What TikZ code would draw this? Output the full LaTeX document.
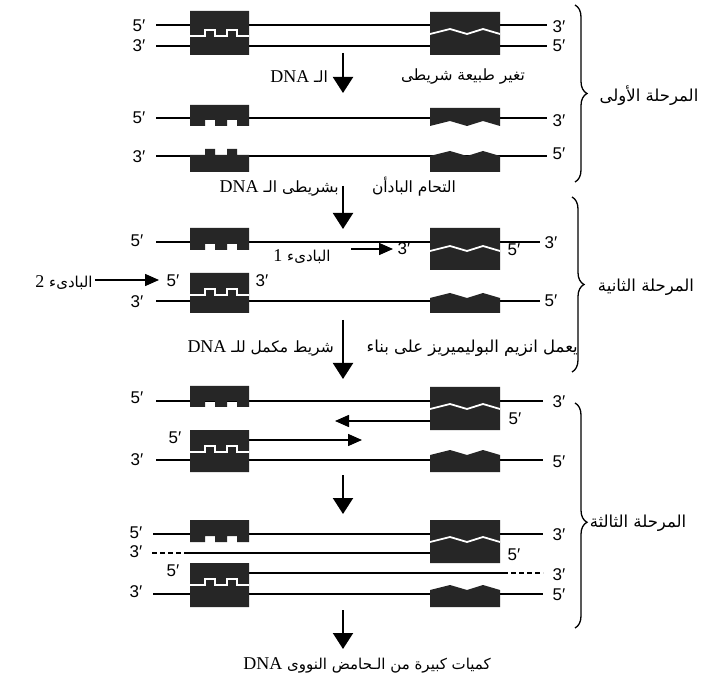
\documentclass[tikz,border=0pt]{standalone}
\usepackage{fontspec}
\setmainfont{Liberation Serif}
\newfontfamily\arabicfont[Script=Arabic]{DejaVu Sans}
\newfontfamily\primefont{Liberation Sans}
\TeXXeTstate=1
\usepackage{tikz}
\usetikzlibrary{arrows.meta, decorations.pathreplacing}

\newcommand{\dna}{{\rmfamily\fontsize{18}{20}\selectfont DNA}}
\newcommand{\num}[1]{{\rmfamily\fontsize{18}{20}\selectfont #1}}
% left blocks: key cut from below / teeth on top
\newcommand{\cutblock}[2]{\fill[blk] (190,#1) -- (249,#1) -- (249,#2) -- (237,#2) -- (237,#2-6) -- (227,#2-6) -- (227,#2) -- (215,#2) -- (215,#2-6) -- (205,#2-6) -- (205,#2) -- (190,#2) -- cycle;}
\newcommand{\toothblock}[2]{\fill[blk] (190,#2) -- (190,#1) -- (205,#1) -- (205,#1-6) -- (215,#1-6) -- (215,#1) -- (227,#1) -- (227,#1-6) -- (237,#1-6) -- (237,#1) -- (249,#1) -- (249,#2) -- cycle;}
\newcommand{\keyseam}[1]{\draw[seam] (190,#1) -- (205,#1) -- (205,#1-6) -- (215,#1-6) -- (215,#1) -- (227,#1) -- (227,#1-6) -- (237,#1-6) -- (237,#1) -- (249,#1);}
% right blocks: zigzag edge
\newcommand{\zigtop}[2]{\fill[blk] (430,#1) -- (500,#1) -- (500,#2) -- (483,#2-5) -- (467,#2) -- (450,#2-5) -- (430,#2) -- cycle;}
\newcommand{\zigbot}[2]{\fill[blk] (430,#2) -- (430,#1) -- (450,#1-5) -- (467,#1) -- (483,#1-5) -- (500,#1) -- (500,#2) -- cycle;}
\newcommand{\zigseam}[1]{\draw[seam] (430,#1) -- (450,#1-5) -- (467,#1) -- (483,#1-5) -- (500,#1);}

\begin{document}
\begin{tikzpicture}[x=1pt, y=-1pt,
  strand/.style={line width=1.5pt},
  blk/.style={fill=black!85},
  seam/.style={white, line width=1.8pt},
  down/.style={line width=2pt, -{Triangle[length=16pt,width=20pt]}},
  prim/.style={line width=1.5pt, -{Triangle[length=14pt,width=12pt]}},
  pr/.style={font=\primefont\fontsize{17}{18}\selectfont, inner sep=0pt},
  ar/.style={font=\arabicfont\fontsize{15.5}{18}\selectfont, inner sep=0pt},
  brc/.style={line width=1.3pt, decorate, decoration={brace, amplitude=12pt}}]
\useasboundingbox (0,0) rectangle (705,679);
\fill[white] (0,0) rectangle (705,679);

% stage one
\draw[strand] (156,25) -- (547,25);
\draw[strand] (156,46) -- (547,46);
\cutblock{11}{36} \toothblock{36}{55} \keyseam{36}
\zigtop{12}{34} \zigbot{34}{55} \zigseam{34}
\node[pr] (a5l) at (139,26) {5′};
\node[pr] (a3l) at (139,46) {3′};
\node[pr] (a3r) at (559,27) {3′};
\node[pr] (a5r) at (559,46) {5′};

\coordinate (d1a) at (343,53);
\coordinate (d1b) at (343,93);
\draw[down] (d1a) -- (d1b);
\node[ar, anchor=east] (t1l) at (328,77) {\beginR الـ \dna\endR};
\node[ar] (t1r) at (463,77) {\beginR تغير طبيعة شريطى\endR};

\draw[strand] (156,118) -- (547,118);
\draw[strand] (156,156) -- (547,156);
\cutblock{105}{126} \zigtop{108}{126}
\toothblock{155}{172} \zigbot{156}{172}
\node[pr] (b5l) at (139,118) {5′};
\node[pr] (b3l) at (139,157) {3′};
\node[pr] (b3r) at (559,121) {3′};
\node[pr] (b5r) at (559,154) {5′};

\coordinate (d2a) at (343,186);
\coordinate (d2b) at (343,229);
\draw[down] (d2a) -- (d2b);
\node[ar, anchor=east] (t2l) at (339,188) {\beginR بشريطى الـ \dna\endR};
\node[ar] (t2r) at (414,187) {\beginR التحام البادأن\endR};

% stage two
\draw[strand] (156,242) -- (540,242);
\cutblock{228}{250}
\zigtop{228}{251} \zigbot{251}{270} \zigseam{251}
\node[pr] (c5l) at (137,241) {5′};
\node[pr] (c3r) at (551,243) {3′};
\node[pr] (p1a) at (404,249) {3′};
\node[pr] (p1b) at (514,250) {5′};
\node[ar, font=\arabicfont\fontsize{15}{18}\selectfont] (p1) at (302,257) {\beginR البادىء \num{1}\endR};
\coordinate (p1s) at (351,249);
\coordinate (p1e) at (393,249);
\draw[prim] (p1s) -- (p1e);

\draw[strand] (156,301) -- (540,301);
\cutblock{273}{295} \toothblock{295}{313} \keyseam{295}
\zigbot{298}{313}
\node[pr] (p2a) at (173,281) {5′};
\node[pr] (p2b) at (262,281) {3′};
\node[pr] (d3l) at (137,302) {3′};
\node[pr] (d5r) at (551,301) {5′};
\node[ar, font=\arabicfont\fontsize{15}{18}\selectfont] (p2) at (64,283) {\beginR البادىء \num{2}\endR};
\coordinate (p2s) at (95,280);
\coordinate (p2e) at (159,280);
\draw[prim] (p2s) -- (p2e);

\coordinate (d3a) at (343,320);
\coordinate (d3b) at (343,379);
\draw[down] (d3a) -- (d3b);
\node[ar, anchor=east] (t3l) at (334,348) {\beginR شريط مكمل للـ \dna\endR};
\node[ar, anchor=east, font=\arabicfont\fontsize{16.5}{18}\selectfont] (t3r) at (578,348) {\beginR يعمل انزيم البوليميريز على بناء\endR};

% stage three
\draw[strand] (156,401) -- (543,401);
\draw[strand] (156,460) -- (543,460);
\cutblock{386}{407}
\zigtop{387}{409} \zigbot{409}{430} \zigseam{409}
\cutblock{430}{452} \toothblock{452}{472} \keyseam{452}
\zigbot{455}{472}
\coordinate (n1s) at (430,421);
\coordinate (n1e) at (335,421);
\coordinate (n2s) at (249,440);
\coordinate (n2e) at (362,440);
\draw[prim] (n1s) -- (n1e);
\draw[prim] (n2s) -- (n2e);
\node[pr] (e5l) at (137,398) {5′};
\node[pr] (e3r) at (559,402) {3′};
\node[pr] (e5n) at (515,419) {5′};
\node[pr] (e5p) at (175,438) {5′};
\node[pr] (e3l) at (137,460) {3′};
\node[pr] (e5r) at (559,462) {5′};

\coordinate (d4a) at (343,475);
\coordinate (d4b) at (343,514);
\draw[down] (d4a) -- (d4b);

\draw[strand] (153,534) -- (543,534);
\draw[strand, dashed, dash pattern=on 5pt off 3pt] (152,553) -- (186,553);
\draw[strand] (186,553) -- (430,553);
\draw[strand] (249,573) -- (503,573);
\draw[strand, dashed, dash pattern=on 5pt off 3pt] (503,573) -- (543,573);
\draw[strand] (153,594) -- (543,594);
\cutblock{520}{542}
\zigtop{520}{542} \zigbot{542}{563} \zigseam{542}
\cutblock{563}{585} \toothblock{585}{607} \keyseam{585}
\zigbot{590}{607}
\node[pr] (f5l) at (136,533) {5′};
\node[pr] (f3r) at (559,535) {3′};
\node[pr] (f3l) at (136,552) {3′};
\node[pr] (f5n) at (514,555) {5′};
\node[pr] (f5p) at (173,571) {5′};
\node[pr] (f3n) at (559,575) {3′};
\node[pr] (g3l) at (136,592) {3′};
\node[pr] (g5r) at (559,595) {5′};

\coordinate (d5a) at (343,610);
\coordinate (d5b) at (343,649);
\draw[down] (d5a) -- (d5b);
\node[ar, font=\arabicfont\fontsize{15}{18}\selectfont] (res) at (367,665) {\beginR كميات كبيرة من الـحامض النووى \dna\endR};

% stage braces
\draw[brc] (575,5) -- (575,182);
\draw[brc] (572,197) -- (572,372);
\draw[brc, decoration={aspect=0.53}] (575,403) -- (575,628);
\node[ar, font=\arabicfont\fontsize{16.5}{18}\selectfont] (s1) at (649,96) {\beginR المرحلة الأولى\endR};
\node[ar, font=\arabicfont\fontsize{16.5}{18}\selectfont] (s2) at (646,287) {\beginR المرحلة الثانية\endR};
\node[ar, font=\arabicfont\fontsize{16.5}{18}\selectfont] (s3) at (638,523) {\beginR المرحلة الثالثة\endR};
\end{tikzpicture}
\end{document}
